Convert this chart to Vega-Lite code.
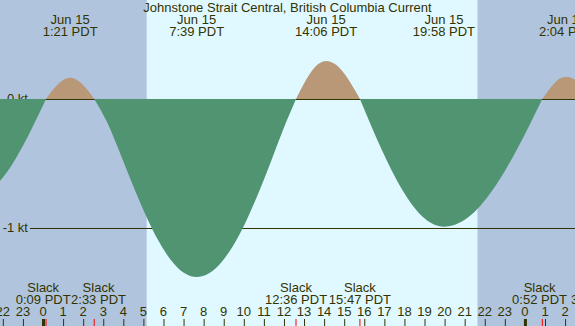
{
  "$schema": "https://vega.github.io/schema/vega-lite/v6.json",
  "width": 575,
  "height": 326,
  "autosize": "none",
  "padding": 0,
  "background": "#b0c4de",
  "config": {
    "view": {"stroke": null},
    "font": "Liberation Sans",
    "text": {"font": "Liberation Sans", "fontSize": 13, "color": "#333300"}
  },
  "datasets": {
    "periods": [
      {"start": -2.5, "end": 5.164, "phase": "night"},
      {"start": 5.164, "end": 21.648, "phase": "day"},
      {"start": 21.648, "end": 27.0, "phase": "night"}
    ],
    "levels": [
      {"kt": 0, "label": "0 kt"},
      {"kt": -1, "label": "-1 kt"}
    ],
    "hours": [
      {"h": -2, "label": "22"}, {"h": -1, "label": "23"}, {"h": 0, "label": "0"}, {"h": 1, "label": "1"},
      {"h": 2, "label": "2"}, {"h": 3, "label": "3"}, {"h": 4, "label": "4"}, {"h": 5, "label": "5"},
      {"h": 6, "label": "6"}, {"h": 7, "label": "7"}, {"h": 8, "label": "8"}, {"h": 9, "label": "9"},
      {"h": 10, "label": "10"}, {"h": 11, "label": "11"}, {"h": 12, "label": "12"}, {"h": 13, "label": "13"},
      {"h": 14, "label": "14"}, {"h": 15, "label": "15"}, {"h": 16, "label": "16"}, {"h": 17, "label": "17"},
      {"h": 18, "label": "18"}, {"h": 19, "label": "19"}, {"h": 20, "label": "20"}, {"h": 21, "label": "21"},
      {"h": 22, "label": "22"}, {"h": 23, "label": "23"}, {"h": 24, "label": "0"}, {"h": 25, "label": "1"},
      {"h": 26, "label": "2"}
    ],
    "current": [
      {"t": -2.2, "kt": -0.647, "seg": "e0", "dir": "ebb"},
      {"t": -1.8, "kt": -0.568, "seg": "e0", "dir": "ebb"},
      {"t": -1.4, "kt": -0.472, "seg": "e0", "dir": "ebb"},
      {"t": -1.0, "kt": -0.362, "seg": "e0", "dir": "ebb"},
      {"t": -0.6, "kt": -0.242, "seg": "e0", "dir": "ebb"},
      {"t": -0.2, "kt": -0.114, "seg": "e0", "dir": "ebb"},
      {"t": 0.15, "kt": 0, "seg": "e0", "dir": "ebb"},
      {"t": 0.15, "kt": 0, "seg": "f1", "dir": "flood"},
      {"t": 0.45, "kt": 0.063, "seg": "f1", "dir": "flood"},
      {"t": 0.75, "kt": 0.117, "seg": "f1", "dir": "flood"},
      {"t": 1.05, "kt": 0.152, "seg": "f1", "dir": "flood"},
      {"t": 1.35, "kt": 0.165, "seg": "f1", "dir": "flood"},
      {"t": 1.65, "kt": 0.152, "seg": "f1", "dir": "flood"},
      {"t": 1.95, "kt": 0.117, "seg": "f1", "dir": "flood"},
      {"t": 2.25, "kt": 0.063, "seg": "f1", "dir": "flood"},
      {"t": 2.55, "kt": 0, "seg": "f1", "dir": "flood"},
      {"t": 2.55, "kt": 0, "seg": "e1", "dir": "ebb"},
      {"t": 3.1875, "kt": -0.1786, "seg": "e1", "dir": "ebb"},
      {"t": 3.825, "kt": -0.4152, "seg": "e1", "dir": "ebb"},
      {"t": 4.4625, "kt": -0.6625, "seg": "e1", "dir": "ebb"},
      {"t": 5.1, "kt": -0.8948, "seg": "e1", "dir": "ebb"},
      {"t": 5.7375, "kt": -1.0959, "seg": "e1", "dir": "ebb"},
      {"t": 6.375, "kt": -1.25, "seg": "e1", "dir": "ebb"},
      {"t": 7.0125, "kt": -1.347, "seg": "e1", "dir": "ebb"},
      {"t": 7.65, "kt": -1.38, "seg": "e1", "dir": "ebb"},
      {"t": 8.269, "kt": -1.351, "seg": "e1", "dir": "ebb"},
      {"t": 8.8875, "kt": -1.265, "seg": "e1", "dir": "ebb"},
      {"t": 9.506, "kt": -1.127, "seg": "e1", "dir": "ebb"},
      {"t": 10.125, "kt": -0.943, "seg": "e1", "dir": "ebb"},
      {"t": 10.744, "kt": -0.723, "seg": "e1", "dir": "ebb"},
      {"t": 11.3625, "kt": -0.48, "seg": "e1", "dir": "ebb"},
      {"t": 11.981, "kt": -0.2285, "seg": "e1", "dir": "ebb"},
      {"t": 12.6, "kt": 0, "seg": "e1", "dir": "ebb"},
      {"t": 12.6, "kt": 0, "seg": "f2", "dir": "flood"},
      {"t": 12.975, "kt": 0.113, "seg": "f2", "dir": "flood"},
      {"t": 13.35, "kt": 0.2086, "seg": "f2", "dir": "flood"},
      {"t": 13.725, "kt": 0.2725, "seg": "f2", "dir": "flood"},
      {"t": 14.1, "kt": 0.295, "seg": "f2", "dir": "flood"},
      {"t": 14.521, "kt": 0.2725, "seg": "f2", "dir": "flood"},
      {"t": 14.942, "kt": 0.2086, "seg": "f2", "dir": "flood"},
      {"t": 15.362, "kt": 0.113, "seg": "f2", "dir": "flood"},
      {"t": 15.783, "kt": 0, "seg": "f2", "dir": "flood"},
      {"t": 15.783, "kt": 0, "seg": "e2", "dir": "ebb"},
      {"t": 16.306, "kt": -0.193, "seg": "e2", "dir": "ebb"},
      {"t": 16.829, "kt": -0.379, "seg": "e2", "dir": "ebb"},
      {"t": 17.352, "kt": -0.55, "seg": "e2", "dir": "ebb"},
      {"t": 17.875, "kt": -0.7, "seg": "e2", "dir": "ebb"},
      {"t": 18.398, "kt": -0.823, "seg": "e2", "dir": "ebb"},
      {"t": 18.921, "kt": -0.915, "seg": "e2", "dir": "ebb"},
      {"t": 19.444, "kt": -0.971, "seg": "e2", "dir": "ebb"},
      {"t": 19.967, "kt": -0.99, "seg": "e2", "dir": "ebb"},
      {"t": 20.58, "kt": -0.971, "seg": "e2", "dir": "ebb"},
      {"t": 21.192, "kt": -0.915, "seg": "e2", "dir": "ebb"},
      {"t": 21.805, "kt": -0.823, "seg": "e2", "dir": "ebb"},
      {"t": 22.417, "kt": -0.7, "seg": "e2", "dir": "ebb"},
      {"t": 23.03, "kt": -0.55, "seg": "e2", "dir": "ebb"},
      {"t": 23.642, "kt": -0.379, "seg": "e2", "dir": "ebb"},
      {"t": 24.255, "kt": -0.193, "seg": "e2", "dir": "ebb"},
      {"t": 24.867, "kt": 0, "seg": "e2", "dir": "ebb"},
      {"t": 24.867, "kt": 0, "seg": "f3", "dir": "flood"},
      {"t": 25.167, "kt": 0.066, "seg": "f3", "dir": "flood"},
      {"t": 25.467, "kt": 0.122, "seg": "f3", "dir": "flood"},
      {"t": 25.767, "kt": 0.16, "seg": "f3", "dir": "flood"},
      {"t": 26.067, "kt": 0.17, "seg": "f3", "dir": "flood"},
      {"t": 26.413, "kt": 0.157, "seg": "f3", "dir": "flood"},
      {"t": 26.76, "kt": 0.12, "seg": "f3", "dir": "flood"}
    ],
    "extremes": [
      {"t": 1.35, "date": "Jun 15", "time": "1:21 PDT"},
      {"t": 7.65, "date": "Jun 15", "time": "7:39 PDT"},
      {"t": 14.1, "date": "Jun 15", "time": "14:06 PDT"},
      {"t": 19.967, "date": "Jun 15", "time": "19:58 PDT"},
      {"t": 26.067, "date": "Jun 16", "time": "2:04 PDT"}
    ],
    "slacks": [
      {"t": 0.15, "time": "0:09 PDT"},
      {"t": 2.55, "time": "2:33 PDT"},
      {"t": 12.6, "time": "12:36 PDT"},
      {"t": 15.783, "time": "15:47 PDT"},
      {"t": 24.867, "time": "0:52 PDT"},
      {"t": 27.45, "time": "3:27 PDT"}
    ]
  },
  "layer": [
    {
      "data": {"name": "periods"},
      "mark": {"type": "rect", "clip": true},
      "encoding": {
        "x": {
          "field": "start", "type": "quantitative", "axis": null,
          "scale": {"domain": [-2.1414, 26.494], "nice": false, "zero": false}
        },
        "x2": {"field": "end"},
        "y": {"datum": 0.7674, "type": "quantitative", "scale": {"domain": [-1.7597, 0.7674], "nice": false, "zero": false}, "axis": null},
        "y2": {"datum": -1.7597},
        "color": {
          "field": "phase", "type": "nominal", "legend": null,
          "scale": {"domain": ["day", "night", "ebb", "flood"], "range": ["#e0f8ff", "#b0c4de", "#509472", "#b99878"]}
        }
      }
    },
    {
      "data": {"name": "levels"},
      "mark": {"type": "rule", "yOffset": 0.5, "color": "#333300", "strokeWidth": 1},
      "encoding": {
        "x": {"datum": -0.6474, "type": "quantitative", "axis": null},
        "x2": {"datum": 26.494},
        "y": {"field": "kt", "type": "quantitative", "axis": null}
      }
    },
    {
      "data": {"name": "levels"},
      "mark": {"type": "text", "align": "right", "baseline": "middle"},
      "encoding": {
        "x": {"datum": -0.747, "type": "quantitative", "axis": null},
        "y": {"field": "kt", "type": "quantitative", "axis": null},
        "text": {"field": "label"}
      }
    },
    {
      "data": {"name": "current"},
      "mark": {"type": "area", "interpolate": "monotone", "clip": true},
      "encoding": {
        "x": {"field": "t", "type": "quantitative", "axis": null},
        "y": {"field": "kt", "type": "quantitative", "stack": null, "axis": null},
        "y2": {"datum": 0},
        "color": {"field": "dir", "type": "nominal", "legend": null},
        "detail": {"field": "seg"}
      }
    },
    {
      "data": {"name": "hours"},
      "mark": {"type": "rule", "color": "#333300", "xOffset": 0.5, "clip": true},
      "encoding": {
        "x": {"field": "h", "type": "quantitative", "axis": null},
        "y": {"datum": -1.7597, "type": "quantitative", "axis": null},
        "y2": {"datum": -1.7054},
        "strokeWidth": {"condition": {"test": "datum.h % 24 === 0", "value": 3}, "value": 1}
      }
    },
    {
      "data": {"name": "hours"},
      "mark": {"type": "text", "align": "center", "baseline": "alphabetic"},
      "encoding": {
        "x": {"field": "h", "type": "quantitative", "axis": null},
        "y": {"datum": -1.6822, "type": "quantitative", "axis": null},
        "text": {"field": "label"}
      }
    },
    {
      "data": {"name": "slacks"},
      "mark": {"type": "rule", "color": "#ff0000", "strokeWidth": 1, "clip": true},
      "encoding": {
        "x": {"field": "t", "type": "quantitative", "axis": null},
        "y": {"datum": -1.7597, "type": "quantitative", "axis": null},
        "y2": {"datum": -1.7054}
      }
    },
    {
      "data": {"name": "slacks"},
      "transform": [{"filter": "datum.t > 10 && datum.t < 20"}],
      "layer": [
        {"mark": {"type": "text", "align": "center", "baseline": "alphabetic"},
         "encoding": {"x": {"field": "t", "type": "quantitative", "axis": null}, "y": {"datum": -1.4938, "type": "quantitative", "axis": null}, "text": {"value": "Slack"}}},
        {"mark": {"type": "text", "align": "center", "baseline": "alphabetic"},
         "encoding": {"x": {"field": "t", "type": "quantitative", "axis": null}, "y": {"datum": -1.5891, "type": "quantitative", "axis": null}, "text": {"field": "time"}}}
      ]
    },
    {
      "data": {"name": "slacks"},
      "transform": [{"filter": "datum.t < 1 || (datum.t > 24 && datum.t < 25)"}],
      "layer": [
        {"mark": {"type": "text", "align": "center", "baseline": "alphabetic", "dx": -2.8},
         "encoding": {"x": {"field": "t", "type": "quantitative", "axis": null}, "y": {"datum": -1.4938, "type": "quantitative", "axis": null}, "text": {"value": "Slack"}}},
        {"mark": {"type": "text", "align": "center", "baseline": "alphabetic", "dx": -2.8},
         "encoding": {"x": {"field": "t", "type": "quantitative", "axis": null}, "y": {"datum": -1.5891, "type": "quantitative", "axis": null}, "text": {"field": "time"}}}
      ]
    },
    {
      "data": {"name": "slacks"},
      "transform": [{"filter": "(datum.t > 2 && datum.t < 3) || datum.t > 27"}],
      "layer": [
        {"mark": {"type": "text", "align": "center", "baseline": "alphabetic", "dx": 4.3},
         "encoding": {"x": {"field": "t", "type": "quantitative", "axis": null}, "y": {"datum": -1.4938, "type": "quantitative", "axis": null}, "text": {"value": "Slack"}}},
        {"mark": {"type": "text", "align": "center", "baseline": "alphabetic", "dx": 4.3},
         "encoding": {"x": {"field": "t", "type": "quantitative", "axis": null}, "y": {"datum": -1.5891, "type": "quantitative", "axis": null}, "text": {"field": "time"}}}
      ]
    },
    {
      "data": {"name": "extremes"},
      "mark": {"type": "text", "align": "center", "baseline": "alphabetic"},
      "encoding": {
        "x": {"field": "t", "type": "quantitative", "axis": null},
        "y": {"datum": 0.5814, "type": "quantitative", "axis": null},
        "text": {"field": "date"}
      }
    },
    {
      "data": {"name": "extremes"},
      "mark": {"type": "text", "align": "center", "baseline": "alphabetic"},
      "encoding": {
        "x": {"field": "t", "type": "quantitative", "axis": null},
        "y": {"datum": 0.4884, "type": "quantitative", "axis": null},
        "text": {"field": "time"}
      }
    },
    {
      "data": {"values": [{"title": "Johnstone Strait Central, British Columbia Current"}]},
      "mark": {"type": "text", "align": "center", "baseline": "alphabetic"},
      "encoding": {
        "x": {"datum": 12.176, "type": "quantitative", "axis": null},
        "y": {"datum": 0.6744, "type": "quantitative", "axis": null},
        "text": {"field": "title"}
      }
    }
  ]
}
